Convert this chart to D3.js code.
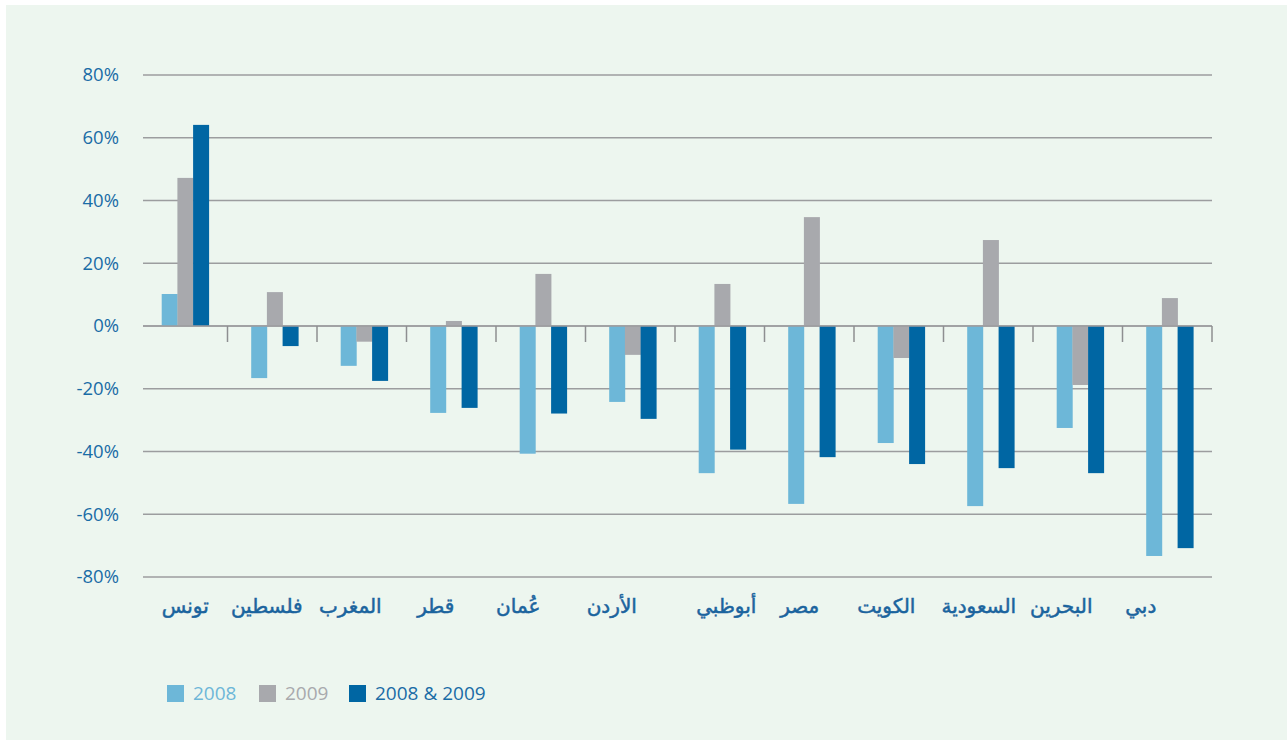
<!DOCTYPE html>
<html>
<head>
<meta charset="utf-8">
<script src="https://cdn.jsdelivr.net/npm/d3@7"></script>
<style>
  html, body { margin: 0; padding: 0; background: #fff; }
  svg { display: block; }
</style>
</head>
<body>
<svg id="chart" width="1287" height="740"></svg>
<script>
// categories, left to right as printed
const categories = ['تونس', 'فلسطين', 'المغرب', 'قطر', 'عُمان', 'الأردن', 'أبوظبي', 'مصر', 'الكويت', 'السعودية', 'البحرين', 'دبي'];
const series = ['2008', '2009', '2008 & 2009'];
const values2008 = [10.2, -16.6, -12.7, -27.7, -40.7, -24.2, -46.9, -56.7, -37.3, -57.4, -32.5, -73.3];
const values2009 = [47.2, 10.8, -5.0, 1.6, 16.6, -9.2, 13.4, 34.7, -10.2, 27.4, -18.8, 8.9];
const valuesBoth = [64.1, -6.4, -17.5, -26.1, -27.9, -29.6, -39.4, -41.8, -44.0, -45.3, -46.9, -70.8];
const yTicks = [80, 60, 40, 20, 0, -20, -40, -60, -80];

// the printed labels sit a little off their group centres
const labelNudge = [0, -8, -14, -18, -25, -21, 4, -12, -15, -12, -19, -29];

const colors = ['#6db7d8', '#a8a9ad', '#0066a3'];
const textBlue = '#1a6ca6';

const svg = d3.select('#chart');

// panel background
svg.append('rect')
    .attr('x', 6).attr('y', 5)
    .attr('width', 1281).attr('height', 735)
    .attr('fill', '#edf6ef');

const x = d3.scaleBand()
    .domain(categories)
    .range([138, 1212]);

const y = d3.scaleLinear()
    .domain([-80, 80])
    .range([577, 75]);

const gridLeft = 143, gridRight = 1212;

// grid lines
svg.append('g')
    .selectAll('line')
    .data(yTicks)
    .join('line')
    .attr('x1', gridLeft)
    .attr('x2', gridRight)
    .attr('y1', d => y(d))
    .attr('y2', d => y(d))
    .attr('stroke', '#9c9d9f')
    .attr('stroke-width', 1.6);

// y labels
svg.append('g')
    .selectAll('text')
    .data(yTicks)
    .join('text')
    .attr('x', 119)
    .attr('y', d => y(d))
    .attr('dy', '0.35em')
    .attr('text-anchor', 'end')
    .attr('fill', textBlue)
    .style('font-family', '"Open Sans", "DejaVu Sans", sans-serif')
    .style('font-size', '18.5px')
    .text(d => d + '%');

// bars
const barW = 15.7;
const groupShift = 2.5;
const rows = categories.map((c, i) => ({
    cat: c,
    vals: [values2008[i], values2009[i], valuesBoth[i]]
}));

const groups = svg.append('g')
    .selectAll('g')
    .data(rows)
    .join('g')
    .attr('transform', d => `translate(${x(d.cat) + x.bandwidth() / 2 + groupShift - barW * 1.5},0)`);

groups.selectAll('rect')
    .data(d => d.vals)
    .join('rect')
    .attr('x', (d, i) => i * barW)
    .attr('width', barW + 0.3)
    .attr('y', d => y(Math.max(0, d)))
    .attr('height', d => Math.abs(y(d) - y(0)))
    .attr('fill', (d, i) => colors[i]);

// zero line on top, with ticks at category boundaries
svg.append('line')
    .attr('x1', gridLeft).attr('x2', gridRight)
    .attr('y1', y(0)).attr('y2', y(0))
    .attr('stroke', '#9c9d9f')
    .attr('stroke-width', 1.6);

svg.append('g')
    .selectAll('line')
    .data(categories)
    .join('line')
    .attr('x1', d => x(d) + x.bandwidth())
    .attr('x2', d => x(d) + x.bandwidth())
    .attr('y1', y(0))
    .attr('y2', y(0) + 16)
    .attr('stroke', '#8e8f91')
    .attr('stroke-width', 1.5);

// category labels
svg.append('g')
    .selectAll('text')
    .data(categories)
    .join('text')
    .attr('x', (d, i) => x(d) + x.bandwidth() / 2 + groupShift + labelNudge[i])
    .attr('y', 613)
    .attr('text-anchor', 'middle')
    .attr('direction', 'rtl')
    .attr('fill', '#1b649e')
    .attr('stroke', '#1b649e')
    .attr('stroke-width', 0.5)
    .style('font-family', '"DejaVu Sans", sans-serif')
    .style('font-size', '20px')
    .text(d => d);

// legend
const legendX = [167, 259, 349];
const legend = svg.append('g')
    .selectAll('g')
    .data(series)
    .join('g')
    .attr('transform', (d, i) => `translate(${legendX[i]},685)`);

legend.append('rect')
    .attr('width', 17)
    .attr('height', 17)
    .attr('fill', (d, i) => colors[i]);

legend.append('text')
    .attr('x', 26)
    .attr('y', 15)
    .attr('fill', (d, i) => i === 2 ? textBlue : colors[i])
    .style('font-family', '"Open Sans", "DejaVu Sans", sans-serif')
    .style('font-size', '19px')
    .text(d => d);
</script>
</body>
</html>
